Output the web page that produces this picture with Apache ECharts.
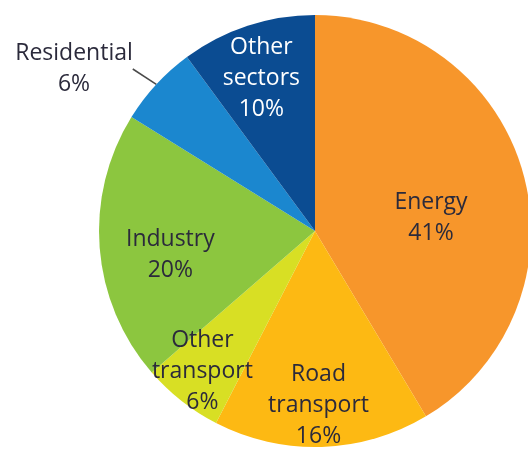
<!DOCTYPE html>
<html>
<head>
<meta charset="utf-8">
<style>
html,body{margin:0;padding:0;background:#fff;}
#chart{width:528px;height:451px;}
</style>
<script src="https://cdn.jsdelivr.net/npm/echarts@6/dist/echarts.min.js"></script>
</head>
<body>
<div id="chart"></div>
<script>
const categories = ['Energy', 'Road\ntransport', 'Other\ntransport', 'Industry', 'Residential', 'Other\nsectors'];
const shares = [41, 16, 6, 20, 6, 10];
const colors = ['#F7962B', '#FDB913', '#D8DF24', '#8CC63F', '#1B87CF', '#0B4C92'];
const textColors = ['#2b2a3b', '#2b2a3b', '#2b2a3b', '#2b2a3b', '#2b2a3b', '#ffffff'];
// label nudges (px) relative to the library's default label anchor
const labelShift = [[9, 17], [0, 64], [-44, 53], [-34, 15], null, [-19, -47]];

const chart = echarts.init(document.getElementById('chart'), null, {renderer: 'canvas'});
const data = categories.map((c, i) => ({
  name: c,
  value: shares[i],
  itemStyle: {color: colors[i]},
  label: i === 4 ? {
    position: 'outside', color: textColors[i]
  } : {position: 'inside', color: textColors[i]},
  labelLine: i === 4 ? {show: true, length: 22, length2: 0, lineStyle: {color: '#4a4a4a', width: 1.5}} : {show: false}
}));

chart.setOption({
  animation: false,
  series: [{
    type: 'pie',
    center: [315, 231],
    radius: 216,
    startAngle: 90,
    clockwise: true,
    avoidLabelOverlap: false,
    data: data,
    label: {
      show: true,
      formatter: p => p.name + '\n' + p.value + '%',
      fontFamily: 'Open Sans',
      fontSize: 23,
      lineHeight: 31,
      align: 'center'
    },
    labelLayout: function (params) {
      const i = params.dataIndex;
      if (i === 4) {
        return {x: 74, y: 69, align: 'center', verticalAlign: 'middle'};
      }
      const s = labelShift[i];
      return {dx: s[0], dy: s[1]};
    },
    emphasis: {disabled: true}
  }]
});
</script>
</body>
</html>
